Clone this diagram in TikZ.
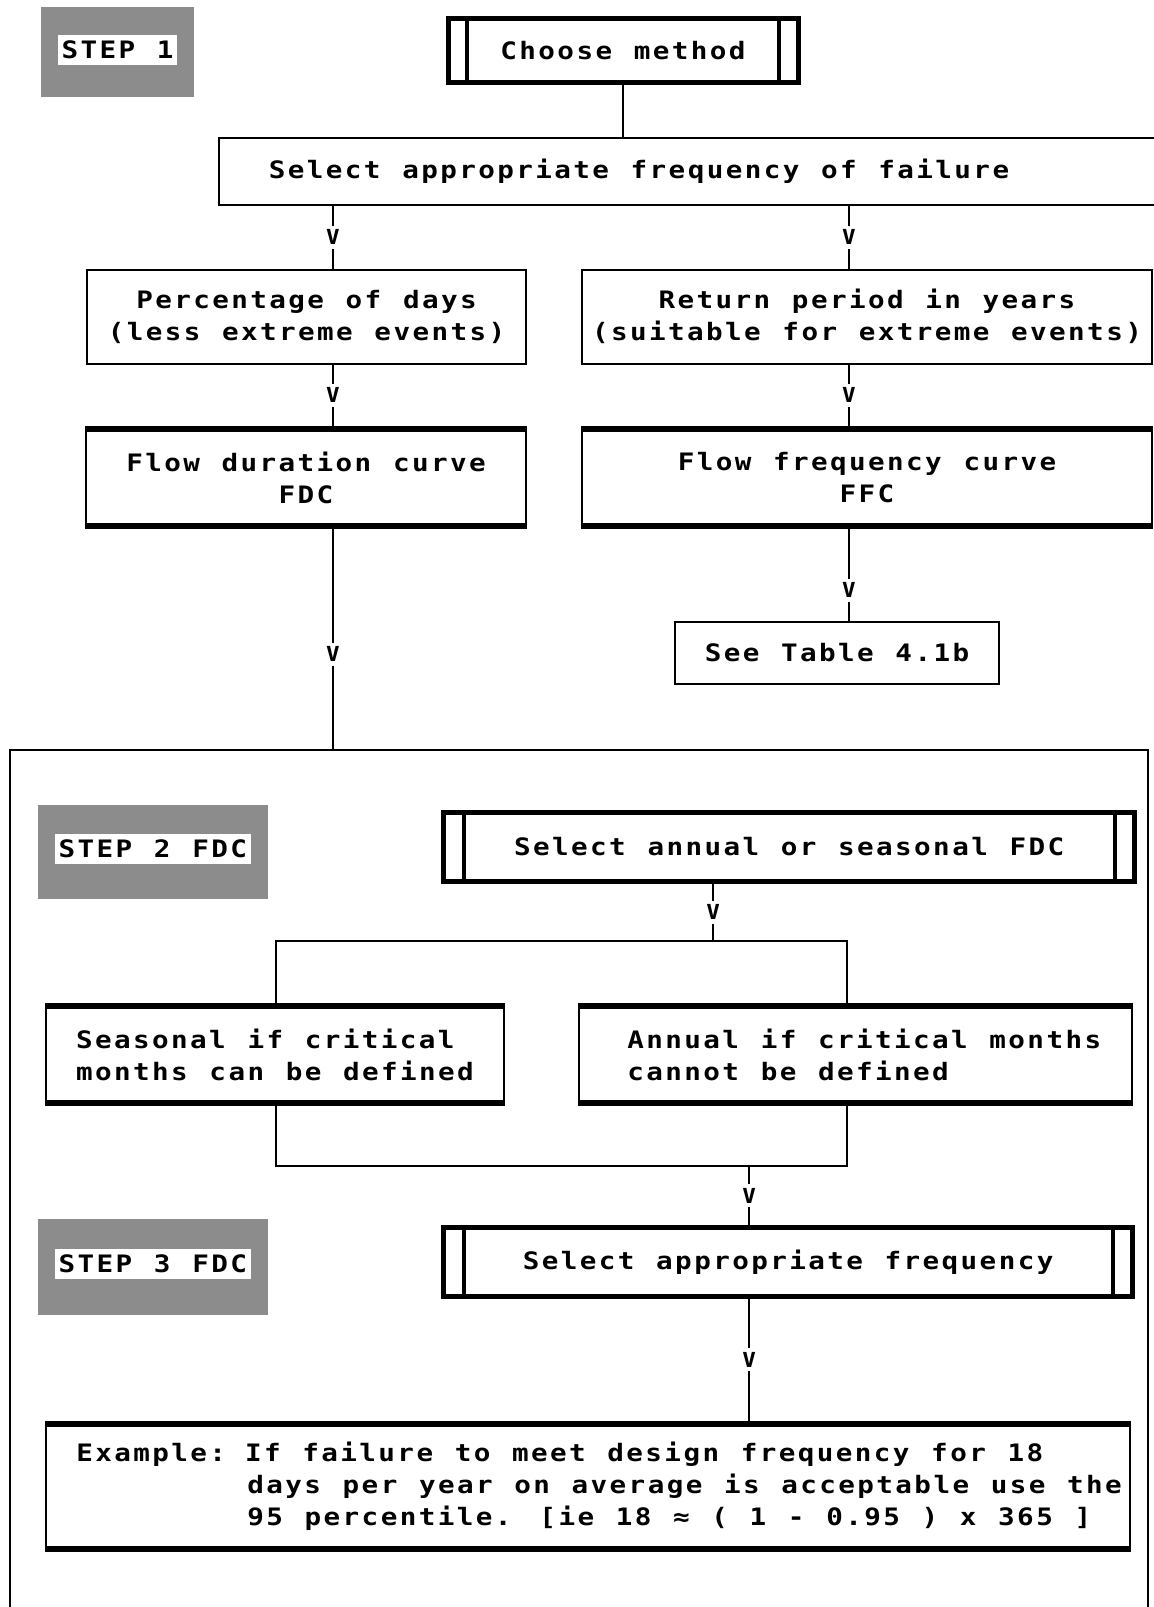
\documentclass[tikz,border=0pt]{standalone}
\usepackage{fontspec}
\usepackage{graphicx}
\usetikzlibrary{positioning, calc}
\newfontfamily\chartfont[FakeStretch=1.15, LetterSpace=10, WordSpace=1.14]{DejaVu Sans Mono}
\newcommand\vmark{\scalebox{0.85}[1.15]{v}}

\begin{document}
\begin{tikzpicture}[
  x=0.5pt, y=-0.5pt,
  font=\chartfont\bfseries\fontsize{12}{16}\selectfont,
  box/.style={rectangle, draw, line width=1pt, align=center, inner sep=2pt},
  heavybox/.style={box, path picture={
      \draw[line width=5pt] (path picture bounding box.north west) -- (path picture bounding box.north east);
      \draw[line width=5pt] (path picture bounding box.south west) -- (path picture bounding box.south east);}},
  barbox/.style={box, line width=2.5pt, path picture={
      \draw[line width=2pt] ([xshift=#1]path picture bounding box.north west) -- ([xshift=#1]path picture bounding box.south west);
      \draw[line width=2pt] ([xshift=-#1]path picture bounding box.north east) -- ([xshift=-#1]path picture bounding box.south east);}},
  barbox/.default=10pt,
  boxtext/.style={anchor=west, inner sep=0pt, align=left},
  stepbox/.style={rectangle, fill=black!45, inner sep=0pt},
  steptext/.style={fill=white, inner xsep=2pt, inner ysep=3pt},
  link/.style={line width=1pt},
  vtip/.style={fill=white, inner xsep=1pt, inner ysep=2pt, pos=#1},
  vtip/.default=0.5
]
  \useasboundingbox (0,0) rectangle (1153,1607);

  % columns and junctions
  \coordinate (cL) at (333,0);
  \coordinate (cR) at (849,0);
  \coordinate (cM) at (713.3,0);
  \coordinate (cN) at (749.2,0);
  \coordinate (splitL) at (275.7,940.9);
  \coordinate (splitR) at (846.6,940.9);
  \coordinate (joinL)  at (275.7,1166.3);
  \coordinate (joinR)  at (846.6,1166.3);

  % step 1
  \node[stepbox, minimum width=76.5pt, minimum height=45pt] (step1) at (117.5,52) {};
  \node[steptext] (step1txt) at ([yshift=1pt]step1) {STEP 1};
  \node[barbox=9.5pt, minimum width=175pt, minimum height=31.75pt] (choose) at (623,50.3) {Choose method};
  \node[box, minimum width=478pt, minimum height=33.5pt] (fail) at (697,171.6) {};
  \node[boxtext] (failtxt) at ([xshift=25.25pt]fail.west) {Select appropriate frequency of failure};
  \node[box, minimum width=219.5pt, minimum height=47.15pt] (pct) at (306.5,316.7)
       {Percentage of days\\(less extreme events)};
  \node[box, minimum width=285pt, minimum height=47.15pt] (ret) at (867,316.7)
       {Return period in years\\(suitable for extreme events)};
  \node[heavybox, minimum width=220pt, minimum height=50.5pt] (fdc) at (306,477.5)
       {Flow duration curve\\FDC};
  \node[heavybox, minimum width=285pt, minimum height=50.5pt] (ffc) at (867,477.5)
       {Flow frequency curve\\FFC};
  \node[box, minimum width=162pt, minimum height=31.3pt] (table) at (837,653) {See Table 4.1b};

  % steps 2 and 3
  \node[draw, line width=1pt, minimum width=569pt, minimum height=450pt] (frame) at (579,1200) {};
  \node[stepbox, minimum width=114.75pt, minimum height=46.75pt] (step2) at (152.8,852) {};
  \node[steptext] (step2txt) at ([yshift=1.5pt]step2) {STEP 2 FDC};
  \node[barbox, minimum width=345.4pt, minimum height=34.35pt] (annsea) at (789.2,847)
       {Select annual or seasonal FDC};
  \node[heavybox, align=left, minimum width=229pt, minimum height=50.2pt] (seas) at (275,1054.6)
       {Seasonal if critical\\months can be defined};
  \node[heavybox, minimum width=276.25pt, minimum height=50.2pt] (ann) at (855.25,1054.6) {};
  \node[boxtext] (anntxt) at ([xshift=24.5pt]ann.west)
       {Annual if critical months\\cannot be defined};
  \node[stepbox, minimum width=114.75pt, minimum height=47.7pt] (step3) at (152.8,1267) {};
  \node[steptext] (step3txt) at ([yshift=1.5pt]step3) {STEP 3 FDC};
  \node[barbox, minimum width=344.35pt, minimum height=34.35pt] (selfreq) at (788.15,1262.2)
       {Select appropriate frequency};
  \node[heavybox, minimum width=541.75pt, minimum height=64.6pt] (example) at (587.75,1486.1) {};
  \node[boxtext] (exampletxt) at ([xshift=15.5pt]example.west)
       {Example:\hspace*{9.5pt}If failure to meet design frequency for 18\\
        \hspace*{85.5pt}days per year on average is acceptable use the\\
        \hspace*{85.5pt}95 percentile. [ie 18 ≈ ( 1 - 0.95 ) x 365 ]};

  \draw[link] (choose.south) -- (choose.south |- fail.north);
  \draw[link] (fail.south -| cL) -- node[vtip]{\vmark} (pct.north -| cL);
  \draw[link] (fail.south -| cR) -- node[vtip]{\vmark} (ret.north -| cR);
  \draw[link] (pct.south -| cL) -- node[vtip]{\vmark} (fdc.north -| cL);
  \draw[link] (ret.south -| cR) -- node[vtip]{\vmark} (ffc.north -| cR);
  \draw[link] (ffc.south -| cR) -- node[vtip=0.67]{\vmark} (table.north -| cR);
  \draw[link] (fdc.south -| cL) -- node[vtip=0.57]{\vmark} (frame.north -| cL);
  \draw[link] (annsea.south -| cM) -- node[vtip]{\vmark} (splitL -| cM);
  \draw[link] (seas.north -| splitL) -- (splitL) -- (splitR) -- (ann.north -| splitR);
  \draw[link] (seas.south -| joinL) -- (joinL) -- (joinR) -- (ann.south -| joinR);
  \draw[link] (joinL -| cN) -- node[vtip]{\vmark} (selfreq.north -| cN);
  \draw[link] (selfreq.south -| cN) -- node[vtip]{\vmark} (example.north -| cN);
\end{tikzpicture}
\end{document}
